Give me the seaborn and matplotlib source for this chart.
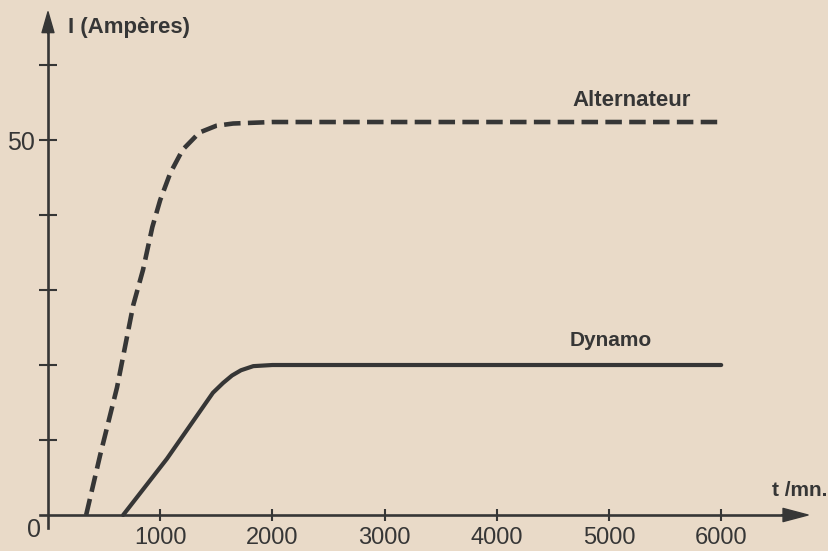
import numpy as np
import pandas as pd
import matplotlib
matplotlib.use("Agg")
import matplotlib.pyplot as plt
import seaborn as sns

# Courbes I = f(t)
t_alternateur = [340, 465, 615, 760, 847, 930, 1000, 1090, 1200, 1350, 1500, 1650, 2000, 6000]
i_alternateur = [0, 8, 17, 28, 32.7, 38.4, 42, 45.6, 48.7, 51, 51.9, 52.2, 52.4, 52.4]

t_dynamo = [670, 1060, 1470, 1560, 1640, 1720, 1830, 2000, 6000]
i_dynamo = [0, 7.5, 16.3, 17.6, 18.6, 19.3, 19.85, 20, 20]

x_ticks = [1000, 2000, 3000, 4000, 5000, 6000]
y_ticks = [10, 20, 30, 40, 50, 60]
y_labels = ["", "", "", "", "50", ""]

df = pd.concat([
    pd.DataFrame({"t": t_alternateur, "I": i_alternateur, "courbe": "Alternateur"}),
    pd.DataFrame({"t": t_dynamo, "I": i_dynamo, "courbe": "Dynamo"}),
])

fond = "#e9dac8"
encre = "#363636"

sns.set_theme(style="white", rc={"axes.facecolor": fond, "figure.facecolor": fond})
plt.rcParams["font.family"] = ["Liberation Sans", "DejaVu Sans"]

W, H = 829, 551
fig = plt.figure(figsize=(W / 100, H / 100), dpi=100)
ax = fig.add_axes([0, 0, 1, 1])

sns.lineplot(data=df, x="t", y="I", style="courbe",
             dashes={"Alternateur": (3.6, 1.6), "Dynamo": ""},
             color=encre, linewidth=3.3, legend=False, ax=ax, sort=False)
# dynamo un peu plus fin
for line in ax.get_lines():
    if line.get_linestyle() == "-":
        line.set_linewidth(3.0)

ax.set_xlim(-427.8, 6960.8)
ax.set_ylim(-4.8, 68.67)

for s in ["top", "right"]:
    ax.spines[s].set_visible(False)
ax.spines["left"].set_position(("data", 0))
ax.spines["bottom"].set_position(("data", 0))
ax.spines["left"].set_bounds(-1.7, 64.6)
ax.spines["bottom"].set_bounds(-70, 6560)
for s in ["left", "bottom"]:
    ax.spines[s].set_color(encre)
    ax.spines[s].set_linewidth(1.9)

ax.set_xticks(x_ticks)
ax.set_xticklabels([str(v) for v in x_ticks])
ax.set_yticks(y_ticks)
ax.set_yticklabels(y_labels)
ax.tick_params(axis="x", direction="inout", length=8.6, width=1.5, pad=4,
               colors=encre, labelsize=17, bottom=True)
ax.tick_params(axis="y", direction="inout", length=13, width=1.5, pad=3,
               colors=encre, labelsize=18, left=True)
ax.set_xlabel("")
ax.set_ylabel("")

# pointes de fleches
ax.annotate("", xy=(6774, 0), xytext=(6540, 0),
            arrowprops=dict(color=encre, width=0.5, headwidth=9.5, headlength=18))
ax.annotate("", xy=(0, 67.1), xytext=(0, 64.2),
            arrowprops=dict(color=encre, width=0.5, headwidth=8.6, headlength=15))

def px(x, y):
    return x / W, 1 - y / H

fig.text(*px(34, 530), "0", fontsize=18, color=encre, ha="center", va="center")
fig.text(*px(68, 28), "I (Ampères)", fontsize=16, fontweight="bold", color=encre,
         ha="left", va="center")
fig.text(*px(772, 491), "t /mn.", fontsize=15, fontweight="bold", color=encre,
         ha="left", va="center")
fig.text(*px(632, 100), "Alternateur", fontsize=16, fontweight="bold", color=encre,
         ha="center", va="center")
fig.text(*px(611, 341), "Dynamo", fontsize=15, fontweight="bold", color=encre,
         ha="center", va="center")

fig.savefig("out.png", dpi=100, facecolor=fond)
